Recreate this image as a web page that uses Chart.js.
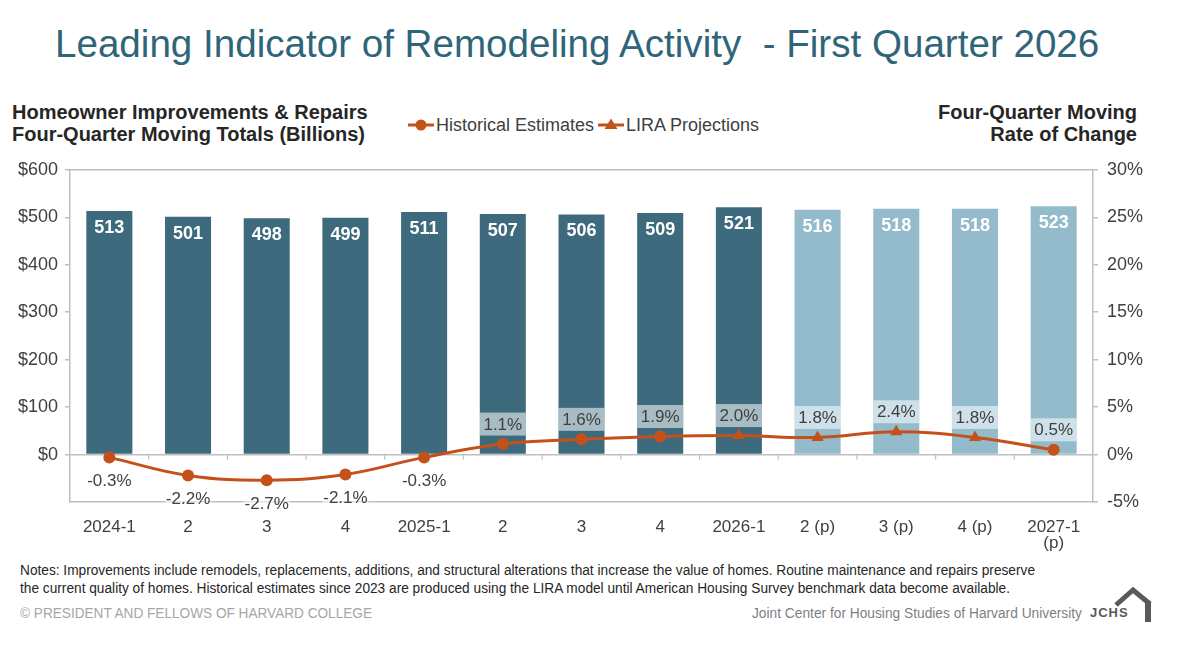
<!DOCTYPE html>
<html>
<head>
<meta charset="utf-8">
<script src="https://cdn.jsdelivr.net/npm/chart.js@4.4.1/dist/chart.umd.min.js"></script>
<style>
  html, body { margin:0; padding:0; background:#fff; }
  body { width:1177px; height:650px; position:relative; overflow:hidden; font-family:"Liberation Sans", Arial, sans-serif; }
  .abs { position:absolute; white-space:nowrap; }
  #title { left:55px; top:25px; font-size:38.6px; line-height:38px; color:#2f6579; }
  .axt { font-weight:bold; font-size:20px; line-height:22px; color:#262626; }
  #lt { left:12px; top:101px; }
  #rt { right:40px; top:101px; text-align:right; }
  .leg { top:114px; height:22px; display:flex; align-items:center; font-size:18px; color:#404040; }
  .leg svg { margin-right:2px; }
  .fit { transform-origin:0 50%; display:inline-block; }
  .note { left:20px; font-size:14px; line-height:18px; color:#262626; }
  #foot1 { left:20px; top:604px; font-size:14px; line-height:18px; color:#a6a6a6; }
  #foot2 { left:752px; top:604px; font-size:14px; line-height:18px; color:#7f7f7f; }
  #jchs { left:1090px; top:604px; font-size:13px; line-height:18px; font-weight:bold; color:#595959; letter-spacing:1px; }
  #wrap { position:absolute; left:0; top:150px; width:1177px; height:410px; }
</style>
</head>
<body>
<div id="title" class="abs">Leading Indicator of Remodeling Activity &nbsp;- First Quarter 2026</div>
<div id="lt" class="abs axt">Homeowner Improvements &amp; Repairs<br>Four-Quarter Moving Totals (Billions)</div>
<div id="rt" class="abs axt">Four-Quarter Moving<br>Rate of Change</div>
<div class="abs leg" id="leg1" style="left:408px;"></div>
<div class="abs leg" id="leg2" style="left:598px;"></div>

<div id="wrap"><canvas id="c"></canvas></div>

<div class="abs note" style="top:561px;"><span class="fit" data-w="1015">Notes: Improvements include remodels, replacements, additions, and structural alterations that increase the value of homes. Routine maintenance and repairs preserve</span></div>
<div class="abs note" style="top:579px;"><span class="fit" data-w="990">the current quality of homes. Historical estimates since 2023 are produced using the LIRA model until American Housing Survey benchmark data become available.</span></div>
<div id="foot1" class="abs"><span class="fit" data-w="352">© PRESIDENT AND FELLOWS OF HARVARD COLLEGE</span></div>
<div id="foot2" class="abs"><span class="fit" data-w="330">Joint Center for Housing Studies of Harvard University</span></div>
<div id="jchs" class="abs">JCHS</div>
<svg class="abs" style="left:1114px; top:586px;" width="40" height="36" viewBox="0 0 40 36">
  <polyline points="2,19 19,4 36,18" fill="none" stroke="#5a5a5a" stroke-width="5" stroke-linejoin="miter"/>
  <rect x="31" y="15" width="6" height="21" fill="#5a5a5a"/>
</svg>

<script>
// ---------------- DATA ----------------
const categories = ['2024-1','2','3','4','2025-1','2','3','4','2026-1','2 (p)','3 (p)','4 (p)',['2027-1','(p)']];
const totals = [513, 501, 498, 499, 511, 507, 506, 509, 521, 516, 518, 518, 523];
const rates = [-0.3, -2.2, -2.7, -2.1, -0.3, 1.1, 1.6, 1.9, 2.0, 1.8, 2.4, 1.8, 0.5];
const barKinds = ['hist','hist','hist','hist','hist','hist','hist','hist','hist','proj','proj','proj','proj'];
const markerKinds = ['hist','hist','hist','hist','hist','hist','hist','hist','proj','proj','proj','proj','hist'];
const seriesNames = ['Historical Estimates', 'LIRA Projections'];
const leftTickValues = [0, 100, 200, 300, 400, 500, 600];
const leftTickLabels = ['$0','$100','$200','$300','$400','$500','$600'];
const rightTickValues = [-5, 0, 5, 10, 15, 20, 25, 30];
const rightTickLabels = ['-5%','0%','5%','10%','15%','20%','25%','30%'];

// ---------------- STYLE ----------------
const DARK = '#3e6a7d', LIGHT = '#93bbcc', ORANGE = '#c5511a', GRID = '#bfbfbf', TXT = '#404040';
const FAM = '"Liberation Sans", Arial, sans-serif';

// legend (HTML)
function icon(kind) {
  const mk = kind === 'hist'
    ? '<circle cx="13" cy="11" r="5.5" fill="'+ORANGE+'"/>'
    : '<polygon points="13,4.5 19.5,15 6.5,15" fill="'+ORANGE+'"/>';
  return '<svg width="26" height="22"><line x1="0" y1="11" x2="26" y2="11" stroke="'+ORANGE+'" stroke-width="3"/>'+mk+'</svg>';
}
document.getElementById('leg1').innerHTML = icon('hist') + '<span>' + seriesNames[0] + '</span>';
document.getElementById('leg2').innerHTML = icon('proj') + '<span>' + seriesNames[1] + '</span>';

// fit footnote text widths
document.querySelectorAll('.fit').forEach(el => {
  const w = el.getBoundingClientRect().width;
  const t = +el.dataset.w;
  el.style.transform = 'scaleX(' + (t / w) + ')';
});

const overlay = {
  id: 'overlay',
  beforeDatasetsDraw(chart) {
    const {ctx, chartArea} = chart;
    ctx.save();
    ctx.strokeStyle = GRID; ctx.lineWidth = 1.5;
    ctx.beginPath();
    ctx.moveTo(chartArea.left, chartArea.top);
    ctx.lineTo(chartArea.right, chartArea.top);
    ctx.stroke();
    // category boundary ticks on zero line
    const xs = chart.scales.x, y0 = chart.scales.y.getPixelForValue(0);
    ctx.lineWidth = 1.2;
    for (let k = 1; k < categories.length; k++) {
      const x = (xs.getPixelForValue(k - 1) + xs.getPixelForValue(k)) / 2;
      ctx.beginPath(); ctx.moveTo(x, y0); ctx.lineTo(x, y0 + 5); ctx.stroke();
    }
    ctx.restore();
  },
  afterDatasetDraw(chart, args) {
    if (args.index !== 0) return;
    const ctx = chart.ctx;
    const bars = chart.getDatasetMeta(0).data;
    const pts = chart.getDatasetMeta(1).data;
    ctx.save();
    ctx.textAlign = 'center'; ctx.textBaseline = 'middle';
    bars.forEach((b, i) => {
      ctx.fillStyle = '#ffffff';
      ctx.font = 'bold 18px ' + FAM;
      ctx.fillText(String(totals[i]), b.x, b.y + 17);
    });
    pts.forEach((p, i) => {
      const w = bars[i].width;
      const v = rates[i];
      const cy = v >= 0 ? p.y - 20 : p.y + 23;
      ctx.fillStyle = 'rgba(255,255,255,0.55)';
      ctx.fillRect(bars[i].x - w / 2, cy - 11.5, w, 23);
      ctx.fillStyle = TXT;
      ctx.font = '17px ' + FAM;
      ctx.fillText(v.toFixed(1) + '%', bars[i].x, cy + 1);
    });
    ctx.restore();
  }
};

new Chart(document.getElementById('c'), {
  data: {
    labels: categories,
    datasets: [
      {
        type: 'bar', label: 'Totals', data: totals, yAxisID: 'y', order: 1,
        backgroundColor: barKinds.map(k => k === 'hist' ? DARK : LIGHT),
        barPercentage: 0.585, categoryPercentage: 1
      },
      {
        type: 'line', label: seriesNames[0], data: rates, yAxisID: 'y1', order: 0,
        borderColor: ORANGE, backgroundColor: ORANGE, borderWidth: 3, tension: 0.4,
        pointStyle: markerKinds.map(k => k === 'hist' ? 'circle' : 'triangle'),
        pointRadius: markerKinds.map(k => k === 'hist' ? 6 : 7),
        pointBorderWidth: 0
      }
    ]
  },
  options: {
    responsive: true, maintainAspectRatio: false, animation: false,
    layout: { padding: { top: 16, left: 0, right: 0, bottom: 0 } },
    plugins: { legend: { display: false }, tooltip: { enabled: false } },
    scales: {
      x: {
        grid: { display: false },
        border: { display: true, color: GRID, width: 1.5 },
        ticks: { color: TXT, font: { size: 17, family: FAM, lineHeight: 0.95 }, padding: 9, maxRotation: 0, autoSkip: false },
        afterFit(s) { s.height = 58; }
      },
      y: {
        position: 'left', min: -100, max: 600,
        ticks: {
          stepSize: 100, color: TXT, font: { size: 18, family: FAM }, padding: 7,
          callback(v) { const i = leftTickValues.indexOf(v); return i < 0 ? '' : leftTickLabels[i]; }
        },
        grid: {
          color: c => (c.tick && c.tick.value === 0) ? GRID : 'rgba(0,0,0,0)',
          tickColor: c => (c.tick && c.tick.value < 0) ? 'rgba(0,0,0,0)' : GRID,
          tickLength: 5, lineWidth: 1.5
        },
        border: { color: GRID, width: 1.5 },
        afterFit(s) { s.width = 70; }
      },
      y1: {
        position: 'right', min: -5, max: 30,
        ticks: {
          stepSize: 5, color: TXT, font: { size: 18, family: FAM }, padding: 9,
          callback(v) { const i = rightTickValues.indexOf(v); return i < 0 ? '' : rightTickLabels[i]; }
        },
        grid: { drawOnChartArea: false, tickColor: GRID, tickLength: 5, lineWidth: 1.5 },
        border: { color: GRID, width: 1.5 },
        afterFit(s) { s.width = 84; }
      }
    }
  },
  plugins: [overlay]
});
</script>
</body>
</html>
